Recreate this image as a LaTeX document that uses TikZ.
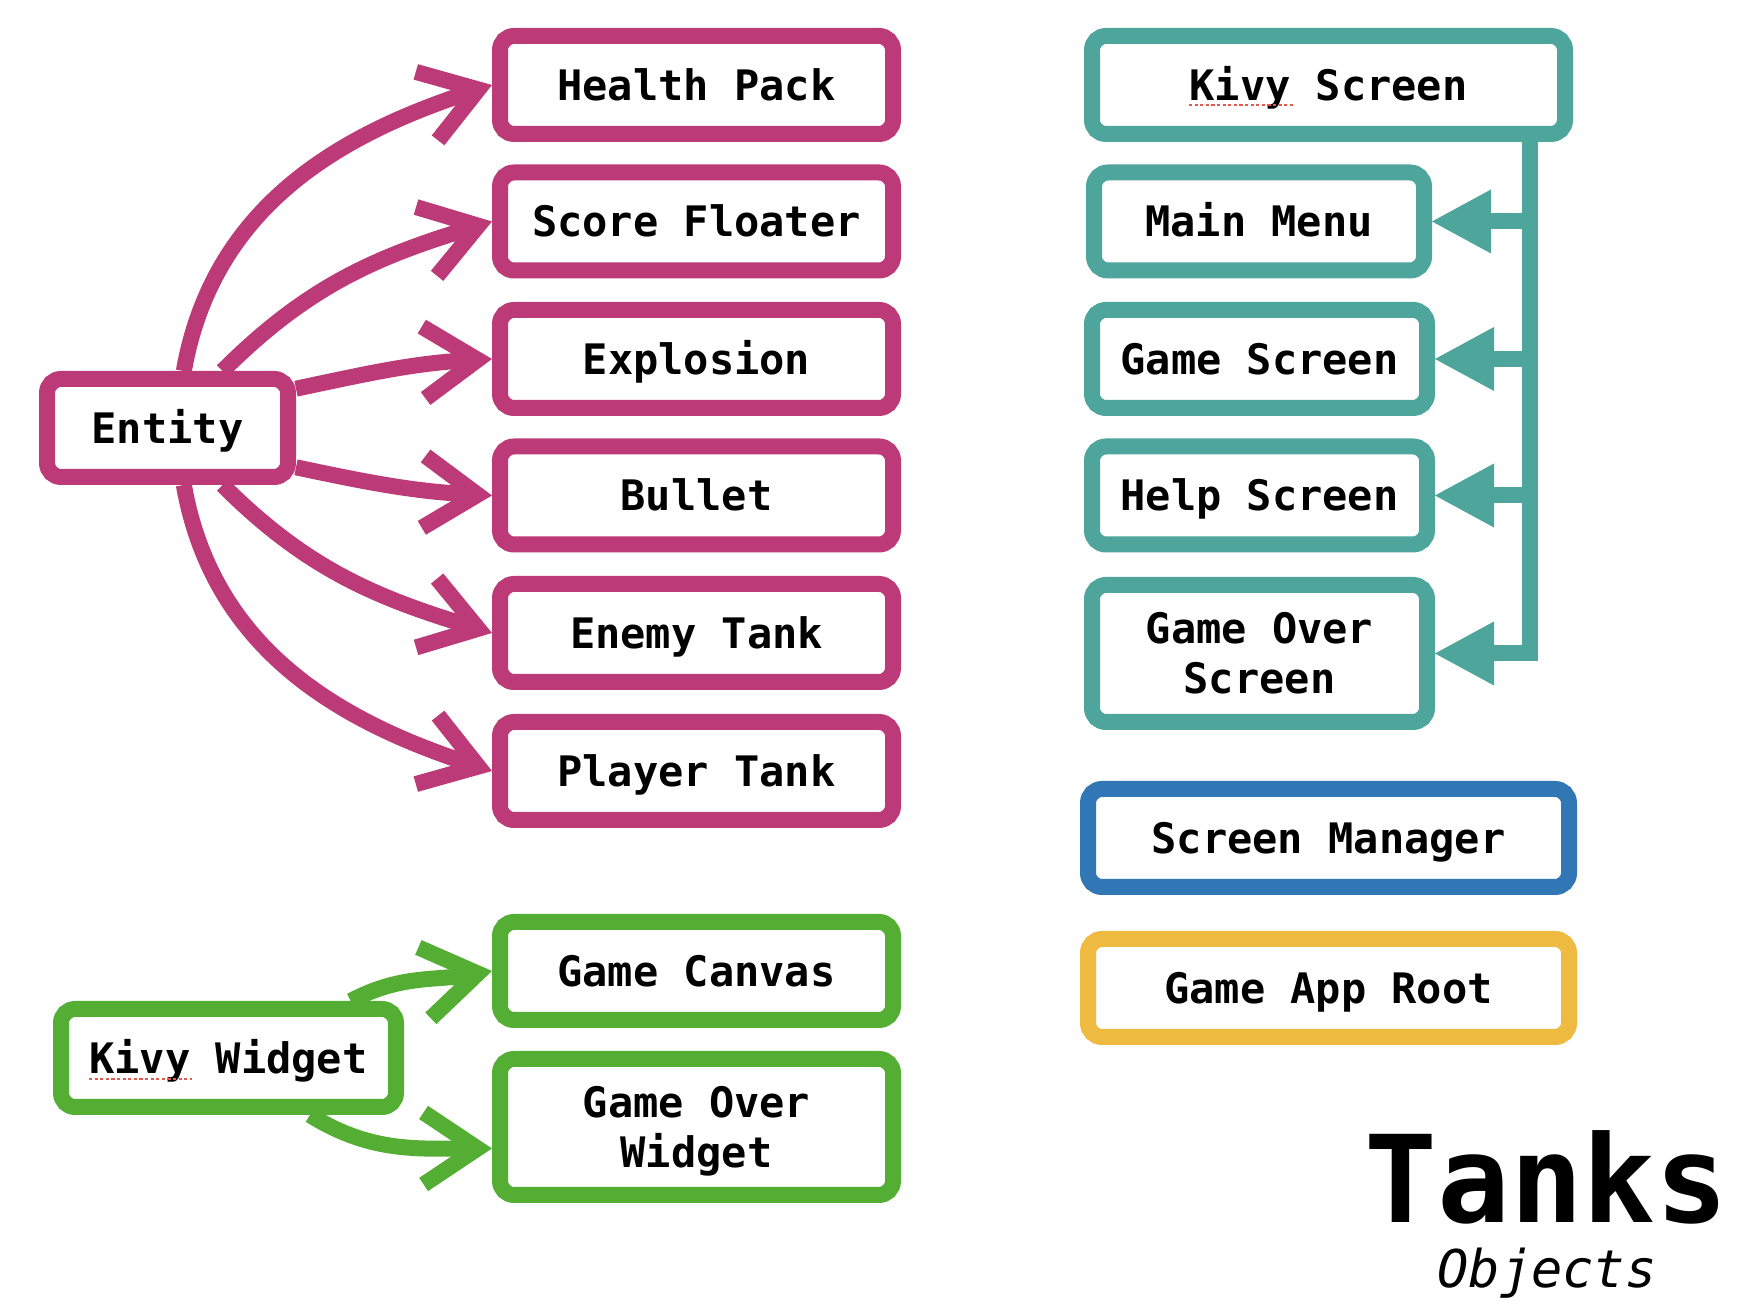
\documentclass[tikz,border=0pt]{standalone}
\usepackage{fontspec}
\usetikzlibrary{arrows.meta}
\newfontfamily\dvmono{DejaVu Sans Mono}
\definecolor{cpink}{HTML}{BC3A78}
\definecolor{cteal}{HTML}{4DA59B}
\definecolor{cgreen}{HTML}{55AE34}
\definecolor{cblue}{HTML}{3176B5}
\definecolor{cyellow}{HTML}{EFBA40}
\definecolor{cspell}{HTML}{E05A4E}
\newcommand\boxfont{\dvmono\bfseries\fontsize{21pt}{25pt}\selectfont}
\begin{document}
\begin{tikzpicture}[x=0.5pt,y=0.5pt,
  box/.style={draw, line width=8pt, rounded corners=7pt, fill=white, inner sep=0pt,
    minimum height=49pt, font=\boxfont, align=center, text=black,
    text height=15.3pt, text depth=0pt},
  twoline/.style={text height=40.3pt, text depth=0pt},
  pinkbox/.style={box, draw=cpink, minimum width=196.5pt},
  greenbox/.style={box, draw=cgreen},
  tealbox/.style={box, draw=cteal},
  pinkarrow/.style={draw=cpink, line width=8pt,
    -{Straight Barb[length=27pt, width=36pt, sharp]}},
  greenarrow/.style={draw=cgreen, line width=8pt,
    -{Straight Barb[length=27pt, width=36pt, sharp]}},
  tealline/.style={draw=cteal, line width=8pt,
    -{Triangle[length=29.5pt, width=32pt, line width=0pt]}},
  spell/.style={draw=cspell, line width=1.3pt, dash pattern=on 1.6pt off 1.2pt}
]
\useasboundingbox (0,0) rectangle (1752,1312);

% pink column
\node[pinkbox] (hp) at (696.5,1227) {Health Pack};
\node[pinkbox] (sf) at (696.5,1090.5) {Score Floater};
\node[pinkbox] (ex) at (696.5,953) {Explosion};
\node[pinkbox] (bu) at (696.5,816.5) {Bullet};
\node[pinkbox] (et) at (696.5,679) {Enemy Tank};
\node[pinkbox] (pt) at (696.5,541) {Player Tank};
\node[box, draw=cpink, minimum width=120.5pt] (entity) at (167.5,884) {Entity};

% green
\node[greenbox, minimum width=196.5pt] (gc) at (696.5,341) {Game Canvas};
\node[greenbox, twoline, minimum width=196.5pt, minimum height=68pt] (gow) at (696.5,185) {Game Over\\Widget};
\node[greenbox, minimum width=167.5pt] (kw) at (228.5,254) {Kivy Widget};

% teal
\node[tealbox, minimum width=236.5pt] (ks) at (1328.5,1227) {Kivy Screen};
\node[tealbox, minimum width=165pt] (mm) at (1259,1090.5) {Main Menu};
\node[tealbox, minimum width=167.5pt] (gs) at (1259.5,953) {Game Screen};
\node[tealbox, minimum width=167.5pt] (hs) at (1259.5,816.5) {Help Screen};
\node[tealbox, twoline, minimum width=167.5pt, minimum height=68.5pt] (gos) at (1259.5,658.5) {Game Over\\Screen};

% blue / yellow
\node[box, draw=cblue, minimum width=240.5pt] (sm) at (1328.5,474) {Screen Manager};
\node[box, draw=cyellow, minimum width=240.5pt] (gar) at (1328.5,324) {Game App Root};

% title
\node[anchor=base west, inner sep=0pt, font=\dvmono\bfseries\fontsize{60.5pt}{60.5pt}\selectfont] (title) at (1364,89) {Tanks};
\node[anchor=base west, inner sep=0pt, font=\dvmono\itshape\fontsize{26pt}{26pt}\selectfont] (subtitle) at (1437,24) {Objects};

% pink arrows
\draw[pinkarrow] (entity.74) to[out=80, in=198] (hp.west);
\draw[pinkarrow] (entity.46) to[out=45, in=197] (sf.west);
\draw[pinkarrow] (entity.17) to[out=12, in=183] (ex.west);
\draw[pinkarrow] (entity.-17) to[out=-12, in=177] (bu.west);
\draw[pinkarrow] (entity.-46) to[out=-45, in=163] (et.west);
\draw[pinkarrow] (entity.-74) to[out=-80, in=162] (pt.west);

% green arrows
\draw[greenarrow] (kw.25) to[out=28, in=190] (gc.west);
\draw[greenarrow] (kw.-35) to[out=-32, in=180] (gow.186);

% teal bus
\coordinate (bus) at (1530,1170);
\draw[tealline] (ks.south -| bus) |- (gos.east);
\foreach \n in {mm,gs,hs} \draw[tealline] (bus |- \n.east) -- (\n.east);

% spell-check underlines
\draw[spell] (1189,1207) -- (1293,1207);
\draw[spell] (89,233) -- (192,233);
\end{tikzpicture}
\end{document}
